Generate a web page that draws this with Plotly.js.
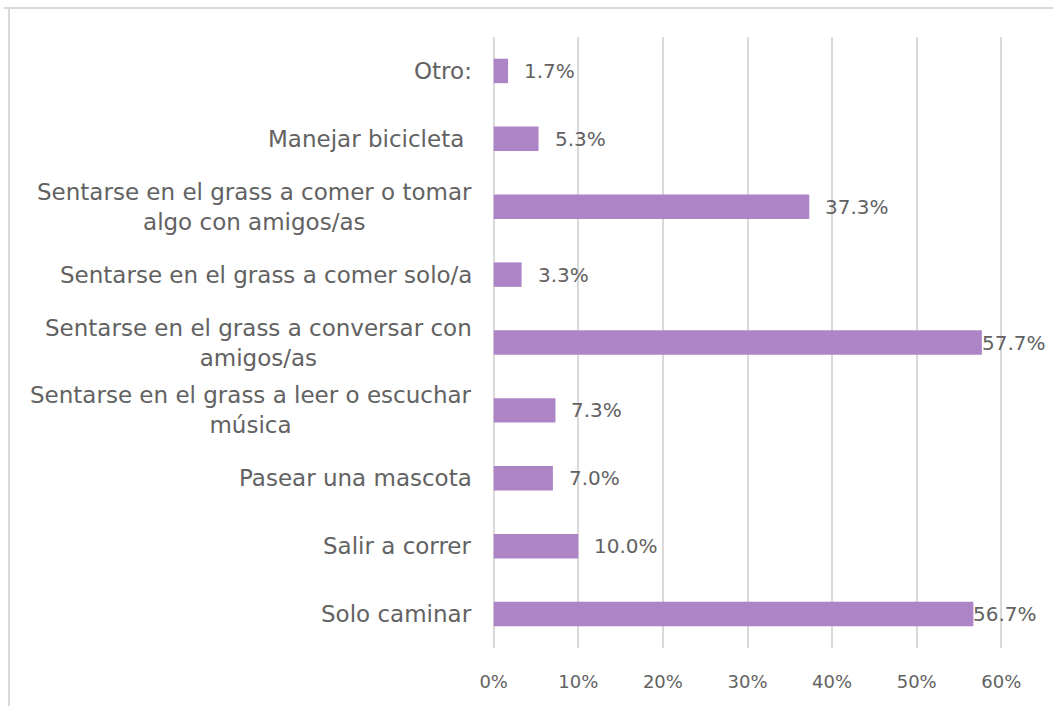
<!DOCTYPE html>
<html>
<head>
<meta charset="utf-8">
<script src="https://cdn.plot.ly/plotly-3.0.1.min.js"></script>
<style>html,body{margin:0;padding:0;background:#fff;}#chart{width:1053px;height:706px;}</style>
</head>
<body>
<div id="chart"></div>
<script>
var categories = [
  "Otro:",
  "Manejar bicicleta ",
  "Sentarse en el grass a comer o tomar<br>algo con amigos/as",
  "Sentarse en el grass a comer solo/a",
  "Sentarse en el grass a conversar con<br>amigos/as",
  "Sentarse en el grass a leer o escuchar<br>música",
  "Pasear una mascota",
  "Salir a correr",
  "Solo caminar"
];
var values = [1.7, 5.3, 37.3, 3.3, 57.7, 7.3, 7.0, 10.0, 56.7];
var labels = ["1.7%", "5.3%", "37.3%", "3.3%", "57.7%", "7.3%", "7.0%", "10.0%", "56.7%"];
var tickVals = [0, 10, 20, 30, 40, 50, 60];
var tickText = ["0%", "10%", "20%", "30%", "40%", "50%", "60%"];

var FONT = "DejaVu Sans";
var GRAY = "#626262";
var ids = categories.map(function(c, i){ return "c" + i; });

var trace = {
  type: "bar",
  orientation: "h",
  x: values,
  y: ids,
  width: 0.36,
  marker: {color: "#AD84C6", line: {width: 0}},
  hoverinfo: "none"
};

var annotations = [];
categories.forEach(function(c, i){
  annotations.push({
    x: 0, xref: "x", y: ids[i], yref: "y",
    text: c, showarrow: false, xanchor: "right", yanchor: "middle",
    align: "center", xshift: -20,
    font: {family: FONT, size: 23, color: GRAY}
  });
  annotations.push({
    x: values[i], xref: "x", y: ids[i], yref: "y",
    text: labels[i], showarrow: false, xanchor: "left", yanchor: "middle",
    xshift: values[i] > 55 ? -2 : 14,
    font: {family: FONT, size: 20, color: GRAY}
  });
});

function px2x(p){ return (p - 492) / 511; }
function py2y(p){ return (648 - p) / 611; }

var layout = {
  width: 1053, height: 706,
  margin: {l: 492, r: 50, t: 37, b: 58},
  paper_bgcolor: "#fff", plot_bgcolor: "#fff",
  showlegend: false,
  xaxis: {
    range: [-0.2, 60.2],
    tickvals: tickVals, ticktext: tickText,
    showgrid: true, gridcolor: "#D9D9D9", gridwidth: 2,
    zeroline: true, zerolinecolor: "#D9D9D9", zerolinewidth: 2,
    showline: false, ticks: "",
    ticklabelstandoff: 21,
    tickfont: {family: FONT, size: 18, color: GRAY},
    fixedrange: true
  },
  yaxis: {
    type: "category",
    autorange: "reversed",
    showticklabels: false, showgrid: false, zeroline: false, showline: false, ticks: "",
    fixedrange: true
  },
  annotations: annotations,
  shapes: [
    {type: "line", xref: "paper", yref: "paper", x0: px2x(9), x1: px2x(9), y0: py2y(8), y1: py2y(706), line: {color: "#D9D9D9", width: 2}},
    {type: "line", xref: "paper", yref: "paper", x0: px2x(4), x1: px2x(1053), y0: py2y(8), y1: py2y(8), line: {color: "#D9D9D9", width: 2}}
  ]
};

Plotly.newPlot("chart", [trace], layout, {displayModeBar: false, staticPlot: true});
</script>
</body>
</html>
